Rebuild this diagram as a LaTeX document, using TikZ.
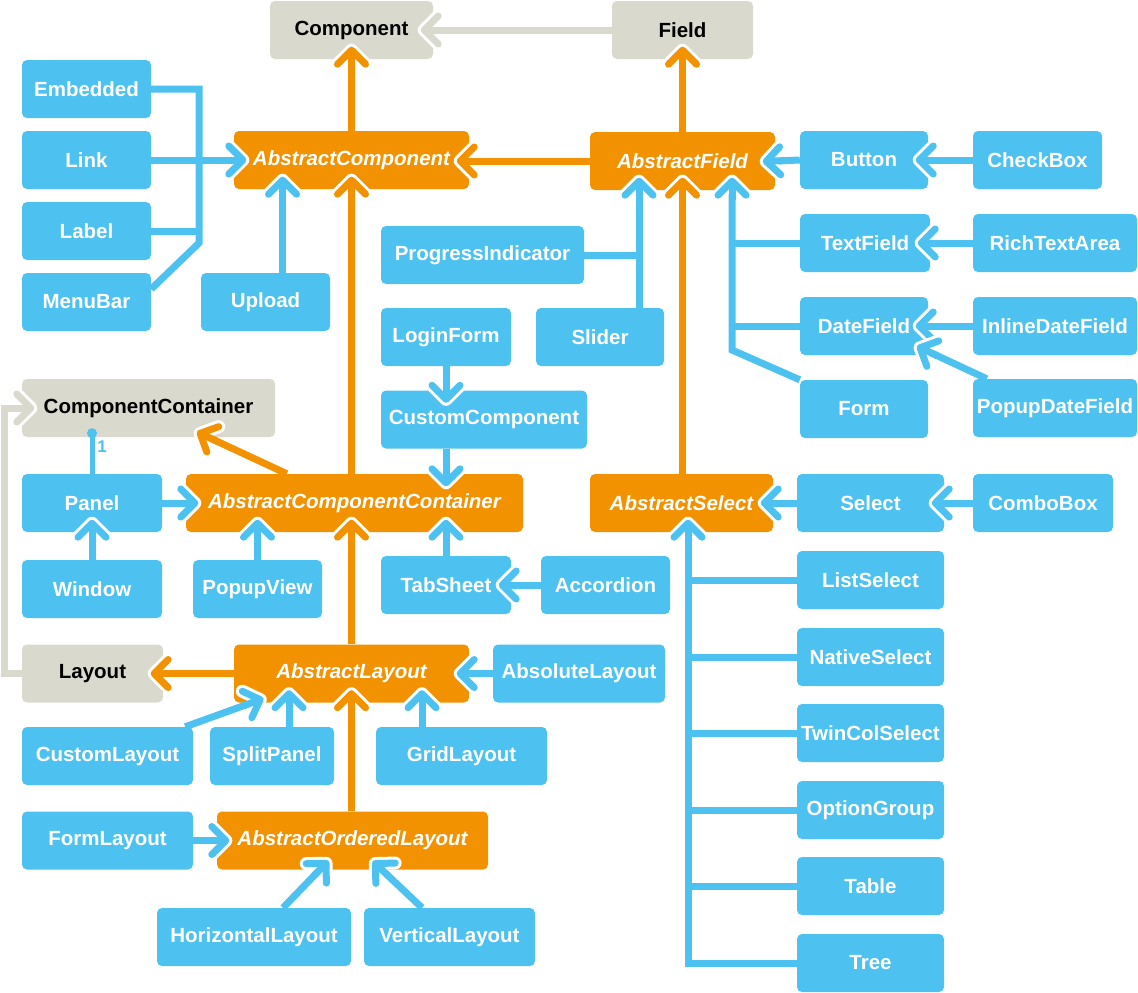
\documentclass[tikz,border=0pt]{standalone}
\usepackage{fontspec}
\setmainfont{Liberation Sans}
\usetikzlibrary{decorations.markings}

\definecolor{vblue}{HTML}{4DC1F0}
\definecolor{vorange}{HTML}{F39200}
\definecolor{vgrey}{HTML}{DAD9CE}

% open arrow head with a white rim
\newcommand{\vchev}[1]{%
  \draw[white,line width=13pt,line cap=round,line join=round] (-5pt,14pt) -- (9pt,0pt) -- (-5pt,-14pt);
  \draw[#1,line width=7pt] (-10pt,0pt) -- (8pt,0pt);
  \draw[#1,line width=7pt,line cap=round,line join=round] (-5pt,14pt) -- (9pt,0pt) -- (-5pt,-14pt);}

\tikzset{
  box/.style={rounded corners=5pt,minimum height=58pt,inner sep=0pt,font=\bfseries\fontsize{20.5}{24}\selectfont},
  cls/.style={box,fill=vblue,text=white,minimum width=129pt},
  abs/.style={box,fill=vorange,text=white,font=\bfseries\itshape\fontsize{20.5}{24}\selectfont},
  ifc/.style={box,fill=vgrey,text=black},
  bline/.style={draw=vblue,line width=7pt},
  oline/.style={draw=vorange,line width=7pt},
  gline/.style={draw=vgrey,line width=7pt},
  arr/.style={postaction={decorate,decoration={markings,mark=at position 1 with {\vchev{#1}}}}}
}

\begin{document}
\begin{tikzpicture}[x=1pt,y=-1pt]
\useasboundingbox (0,0) rectangle (1138,993);
% interfaces
\node[ifc,minimum width=163pt](comp) at (351.5,30) {Component};
\node[ifc,minimum width=141pt](field) at (682.5,30) {Field};
\node[ifc,minimum width=253pt](cc) at (148.5,408) {ComponentContainer};
\node[ifc,minimum width=141pt](layout) at (92.5,673.5) {Layout};
% abstract classes
\node[abs,minimum width=235pt](ac) at (351.5,160) {AbstractComponent};
\node[abs,minimum width=185pt](af) at (682.5,161) {AbstractField};
\node[abs,minimum width=337pt](acc) at (354.5,503) {AbstractComponentContainer};
\node[abs,minimum width=183pt](as) at (681.5,503) {AbstractSelect};
\node[abs,minimum width=235pt](al) at (351.5,673.5) {AbstractLayout};
\node[abs,minimum width=271pt](aol) at (352.5,840.5) {AbstractOrderedLayout};
% components
\node[cls](embedded) at (86.5,89) {Embedded};
\node[cls](link) at (86.5,160) {Link};
\node[cls](label) at (86.5,231) {Label};
\node[cls](menubar) at (86.5,302) {MenuBar};
\node[cls](upload) at (265.5,302) {Upload};
\node[cls,minimum width=203pt](progress) at (482.5,255) {ProgressIndicator};
\node[cls,minimum width=128pt](slider) at (600,337) {Slider};
\node[cls,minimum width=130pt](loginform) at (446,337) {LoginForm};
\node[cls,minimum width=206pt](customcomp) at (484,419.5) {CustomComponent};
\node[cls,minimum width=128pt](button) at (864,160) {Button};
\node[cls](checkbox) at (1037.5,160) {CheckBox};
\node[cls,minimum width=130pt](textfield) at (865,243) {TextField};
\node[cls,minimum width=164pt](richtext) at (1055,243) {RichTextArea};
\node[cls,minimum width=128pt](datefield) at (864,326) {DateField};
\node[cls,minimum width=164pt](inlinedate) at (1055,326) {InlineDateField};
\node[cls,minimum width=128pt](form) at (864,409) {Form};
\node[cls,minimum width=164pt](popupdate) at (1055,408) {PopupDateField};
\node[cls,minimum width=140pt](panel) at (92,503) {Panel};
\node[cls,minimum width=140pt](window) at (92,589) {Window};
\node[cls](popupview) at (257.5,589) {PopupView};
\node[cls,minimum width=130pt](tabsheet) at (446,585) {TabSheet};
\node[cls](accordion) at (605.5,585) {Accordion};
\node[cls,minimum width=147pt](select) at (870.5,503) {Select};
\node[cls,minimum width=140pt](combobox) at (1043,503) {ComboBox};
\node[cls,minimum width=147pt](listselect) at (870.5,580) {ListSelect};
\node[cls,minimum width=147pt](nativeselect) at (870.5,657) {NativeSelect};
\node[cls,minimum width=147pt](twincol) at (870.5,733) {TwinColSelect};
\node[cls,minimum width=147pt](optiongroup) at (870.5,810) {OptionGroup};
\node[cls,minimum width=147pt](table) at (870.5,886) {Table};
\node[cls,minimum width=147pt](tree) at (870.5,963) {Tree};
\node[cls,minimum width=172pt](absolute) at (579,673.5) {AbsoluteLayout};
\node[cls,minimum width=171pt](customlayout) at (107.5,756) {CustomLayout};
\node[cls,minimum width=124pt](splitpanel) at (272,756) {SplitPanel};
\node[cls,minimum width=171pt](gridlayout) at (461.5,756) {GridLayout};
\node[cls,minimum width=171pt](formlayout) at (107.5,840.5) {FormLayout};
\node[cls,minimum width=194pt](horizontal) at (254,937) {HorizontalLayout};
\node[cls,minimum width=171pt](vertical) at (449.5,937) {VerticalLayout};
\node[text=vblue,font=\bfseries\fontsize{17}{19}\selectfont](mult) at (102,447) {1};
% bus points
\coordinate (cbus) at (199,243);
\coordinate (fbus) at (639,308);
\coordinate (dbus) at (732,350);
\coordinate (sbus) at (688,963);
% interface links
\draw[gline,arr=vgrey] (field.west) -- (comp.east);
\draw[gline,arr=vgrey] (layout.west) -- ++(-17,0) |- (cc.west);
% inheritance
\draw[oline,arr=vorange] (ac.north) -- (comp.south);
\draw[oline,arr=vorange] (af.north) -- (field.south);
\draw[oline,arr=vorange] (af.west) -- (af.west -| ac.east);
\draw[oline,arr=vorange] (ac.south |- acc.north) -- (ac.south);
\draw[oline,arr=vorange] (af.south |- as.north) -- (af.south);
\draw[oline,arr=vorange] ([xshift=101pt]acc.north west) -- ([xshift=-67pt]cc.south east);
\draw[oline,arr=vorange] (al.north) -- (al.north |- acc.south);
\draw[oline,arr=vorange] (al.west) -- (layout.east);
\draw[oline,arr=vorange] (al.south |- aol.north) -- (al.south);
% components
\draw[bline] (embedded.east) -| (cbus) -- ([yshift=13pt]menubar.east);
\draw[bline] (label.east) -- (label.east -| cbus);
\draw[bline,arr=vblue] (link.east) -- (ac.west);
\draw[bline,arr=vblue] ([xshift=17pt]upload.north) -- ([xshift=17pt]upload.north |- ac.south);
\draw[bline] (progress.east) -- (progress.east -| fbus);
\draw[bline,arr=vblue] (fbus) -- (fbus |- af.south);
\draw[bline,arr=vblue] (form.north west) -- (dbus) -- (dbus |- af.south);
\draw[bline] (textfield.west) -- (textfield.west -| dbus);
\draw[bline] (datefield.west) -- (datefield.west -| dbus);
\draw[bline,arr=vblue] (button.west) -- (af.east);
\draw[bline,arr=vblue] (checkbox.west) -- (button.east);
\draw[bline,arr=vblue] (richtext.west) -- (textfield.east);
\draw[bline,arr=vblue] (inlinedate.west) -- (datefield.east);
\draw[bline,arr=vblue] ([xshift=14pt]popupdate.north west) -- ([yshift=-25.5pt]datefield.east);
\draw[bline,arr=vblue] (loginform.south) -- (loginform.south |- customcomp.north);
\draw[bline,arr=vblue] (loginform.south |- customcomp.south) -- (loginform.south |- acc.north);
\draw[draw=vblue,line width=5pt] (panel.north) -- ([yshift=4pt]panel.north |- cc.south);
\fill[vblue] ([yshift=4pt]panel.north |- cc.south) circle (5pt);
\draw[bline,arr=vblue] (panel.east) -- (acc.west);
\draw[bline,arr=vblue] (window.north) -- (panel.south);
\draw[bline,arr=vblue] (popupview.north) -- (popupview.north |- acc.south);
\draw[bline,arr=vblue] (tabsheet.north) -- (tabsheet.north |- acc.south);
\draw[bline,arr=vblue] (accordion.west) -- (tabsheet.east);
\draw[bline,arr=vblue] (select.west) -- (as.east);
\draw[bline,arr=vblue] (combobox.west) -- (select.east);
\draw[bline,arr=vblue] (tree.west) -- (sbus) -- (sbus |- as.south);
\foreach \s in {listselect,nativeselect,twincol,optiongroup,table}
  \draw[bline] (\s.west) -- (\s.west -| sbus);
\draw[bline,arr=vblue] (absolute.west) -- (al.east);
\draw[bline,arr=vblue] ([xshift=-8pt]customlayout.north east) -- ([xshift=18pt]al.south west);
\draw[bline,arr=vblue] ([xshift=17pt]splitpanel.north) -- ([xshift=17pt]splitpanel.north |- al.south);
\draw[bline,arr=vblue] ([xshift=-39.5pt]gridlayout.north) -- ([xshift=-39.5pt]gridlayout.north |- al.south);
\draw[bline,arr=vblue] (formlayout.east) -- (aol.west);
\draw[bline,arr=vblue] ([xshift=29pt]horizontal.north) -- ([xshift=103pt]aol.south west);
\draw[bline,arr=vblue] ([xshift=-27.5pt]vertical.north) -- ([xshift=165pt]aol.south west);
\end{tikzpicture}
\end{document}
